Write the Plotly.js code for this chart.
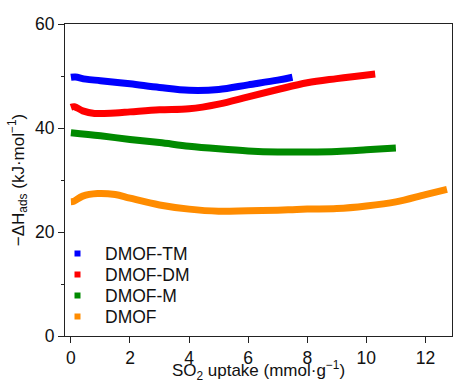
<!DOCTYPE html>
<html>
<head>
<meta charset="utf-8">
<script src="https://cdn.plot.ly/plotly-3.0.1.min.js"></script>
<style>html,body{margin:0;padding:0;background:#fff;}#chart{width:454px;height:383px;}</style>
</head>
<body>
<div id="chart"></div>
<script>
const seriesNames = ["DMOF-TM", "DMOF-DM", "DMOF-M", "DMOF"];
const seriesColors = ["#0000ff", "#ff0000", "#008a00", "#ff8c00"];

const tmX = [0, 0.15, 0.5, 1, 2, 3, 4, 5, 6, 7, 7.5];
const tmY = [49.75, 49.8, 49.4, 49.1, 48.5, 47.8, 47.25, 47.4, 48.3, 49.2, 49.75];

const dmX = [0, 0.12, 0.4, 0.8, 1.5, 2, 3, 4, 5, 6, 7, 8, 9, 10.3];
const dmY = [44.0, 44.1, 43.3, 42.8, 42.9, 43.1, 43.5, 43.7, 44.6, 46.0, 47.4, 48.7, 49.5, 50.4];

const mX = [0, 1, 2, 3, 4, 5, 6, 7, 8, 9, 10, 11];
const mY = [39.1, 38.5, 37.8, 37.2, 36.5, 36.0, 35.6, 35.4, 35.4, 35.5, 35.8, 36.15];

const dX = [0, 0.1, 0.4, 0.9, 1.5, 2, 3, 4, 5, 6, 7, 8, 9, 10, 11, 12, 12.73];
const dY = [25.8, 25.9, 26.9, 27.4, 27.2, 26.5, 25.2, 24.4, 24.0, 24.1, 24.2, 24.4, 24.5, 25.0, 25.8, 27.2, 28.2];

const xTickVals = [0, 2, 4, 6, 8, 10, 12];
const yTickVals = [0, 20, 40, 60];

const xs = [tmX, dmX, mX, dX];
const ys = [tmY, dmY, mY, dY];

const font = "Liberation Sans, Arial, sans-serif";
const W = 454, H = 383;
const M = {l: 65, r: 2, t: 24, b: 47};
const pw = W - M.l - M.r, ph = H - M.t - M.b;

const traces = [];
for (let i = 0; i < 4; i++) {
  traces.push({
    x: xs[i], y: ys[i], type: "scatter", mode: "lines", name: seriesNames[i],
    line: {color: seriesColors[i], width: 7, shape: "spline", smoothing: 1},
    showlegend: false, hoverinfo: "skip"
  });
}

// custom legend (layout-only positions, in paper coordinates)
const legTop = 253.5, legStep = 21, legMarkX = 77.5, legTextX = 102.5, sq = 6;
const shapes = [], annotations = [];
for (let i = 0; i < 4; i++) {
  const cy = (H - M.b - (legTop + legStep * i)) / ph;
  const cx = (legMarkX - M.l) / pw;
  shapes.push({
    type: "rect", xref: "paper", yref: "paper",
    x0: cx - sq / 2 / pw, x1: cx + sq / 2 / pw,
    y0: cy - sq / 2 / ph, y1: cy + sq / 2 / ph,
    fillcolor: seriesColors[i], line: {width: 0}
  });
  annotations.push({
    xref: "paper", yref: "paper", x: (legTextX - M.l) / pw, y: cy,
    xanchor: "left", yanchor: "middle", showarrow: false,
    text: seriesNames[i], font: {family: font, size: 17.5, color: "#111"}
  });
}

const layout = {
  width: W, height: H,
  margin: M,
  paper_bgcolor: "#fff", plot_bgcolor: "#fff",
  font: {family: font, size: 17, color: "#111"},
  showlegend: false,
  shapes: shapes,
  annotations: annotations,
  xaxis: {
    range: [-0.2, 12.9], tickvals: xTickVals, ticktext: xTickVals.map(String),
    showgrid: false, zeroline: false, showline: true, mirror: true,
    linecolor: "#222", linewidth: 1, ticks: "outside", ticklen: 6, tickcolor: "#222",
    tickfont: {family: font, size: 17.5, color: "#111"},
    title: {text: "SO<sub>2</sub> uptake (mmol·g<sup>−1</sup>)", font: {family: font, size: 17, color: "#111"}, standoff: 3}
  },
  yaxis: {
    range: [0, 60], tickvals: yTickVals, ticktext: yTickVals.map(String),
    showgrid: false, zeroline: false, showline: true, mirror: true,
    linecolor: "#222", linewidth: 1, ticks: "outside", ticklen: 6, tickcolor: "#222",
    minor: {dtick: 10, ticks: "outside", ticklen: 3, tickcolor: "#222", showgrid: false},
    tickfont: {family: font, size: 17.5, color: "#111"},
    title: {text: "−ΔH<sub>ads</sub> (kJ·mol<sup>−1</sup>)", font: {family: font, size: 17, color: "#111"}, standoff: 6}
  }
};

Plotly.newPlot("chart", traces, layout, {displayModeBar: false, staticPlot: true});
</script>
</body>
</html>
